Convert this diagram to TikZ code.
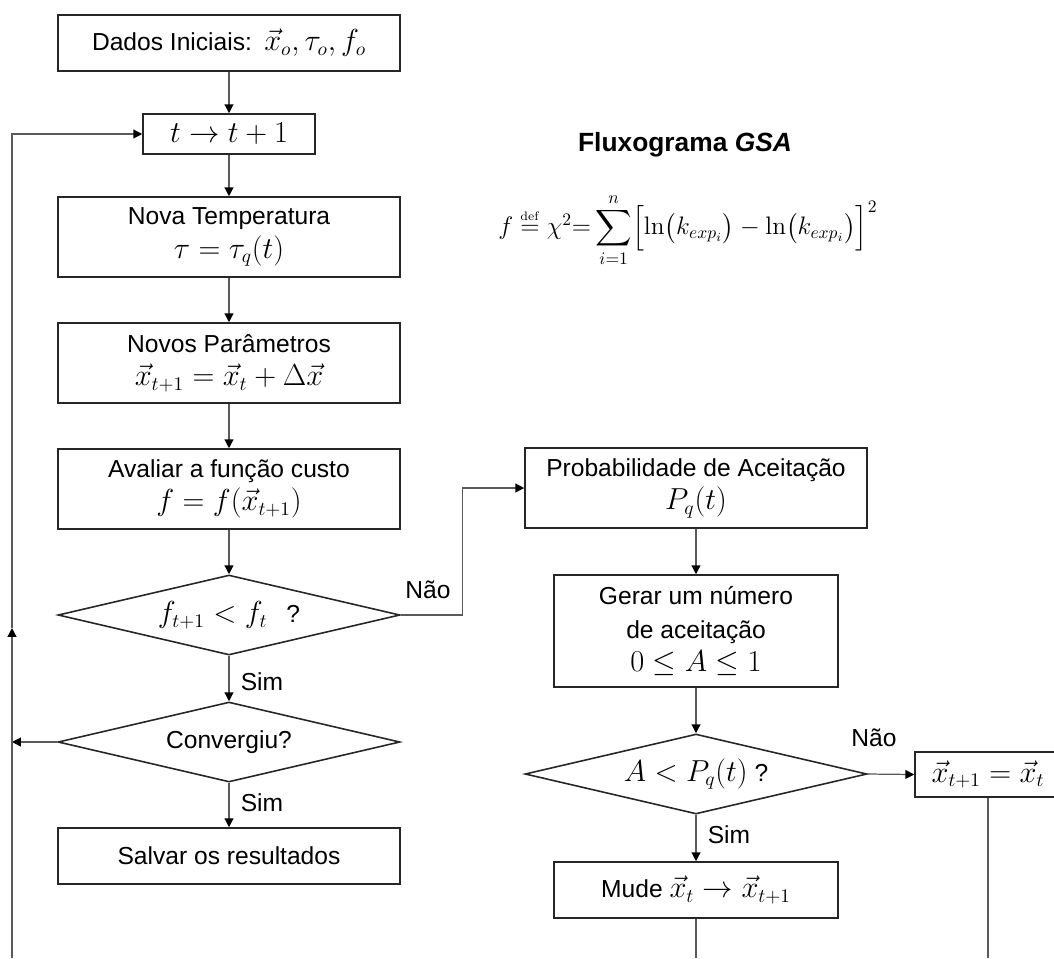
\documentclass[tikz,border=0pt]{standalone}
\usepackage{amsmath}
\usepackage[no-math]{fontspec}
\setmainfont{Liberation Sans}
\usetikzlibrary{shapes.geometric,arrows.meta}

\definecolor{edgegray}{HTML}{262626}
\definecolor{flowgray}{HTML}{5A5A5A}

% math in the boxes is set a little larger than the text
\newcommand{\mq}[1]{{\fontsize{16}{19}\selectfont$#1$}}

\begin{document}
\begin{tikzpicture}[
    x=0.02cm, y=-0.02cm,
    box/.style={draw=edgegray, line width=0.9pt, inner sep=0pt, align=center,
        font=\fontsize{14}{19}\selectfont},
    decision/.style={diamond, draw=edgegray, line width=0.9pt, aspect=4.3,
        inner sep=0pt, minimum width=6.84cm, minimum height=1.6cm,
        font=\fontsize{14}{18}\selectfont},
    flow/.style={draw=flowgray, line width=0.7pt,
        -{Triangle[length=5pt,width=5pt,color=black]}},
    plain/.style={draw=flowgray, line width=0.7pt},
    lbl/.style={font=\fontsize{14}{17}\selectfont, inner sep=0pt},
    titl/.style={font=\fontsize{15}{18}\selectfont\bfseries}
]

% Frame
\clip (0,0) rectangle (1054,958);

% Column positions
\def\xL{229}
\def\xR{696}

% ============================================================
% Main column
% ============================================================
\node[box, minimum width=6.84cm, minimum height=1.12cm] (dados) at (\xL,43)
    {Dados Iniciais:\enspace \mq{\vec{x}_o,\tau_o,f_o}};
\node[box, minimum width=3.44cm, minimum height=0.8cm] (incr) at (\xL,134)
    {\mq{t\rightarrow t+1}};
\node[box, minimum width=6.84cm, minimum height=1.6cm] (temp) at (\xL,237)
    {Nova Temperatura\\\mq{\tau=\tau_q(t)}};
\node[box, minimum width=6.84cm, minimum height=1.6cm] (param) at (\xL,363)
    {Novos Parâmetros\\\mq{\vec{x}_{t+1}=\vec{x}_t+\Delta\vec{x}}};
\node[box, minimum width=6.84cm, minimum height=1.6cm] (custo) at (\xL,489)
    {Avaliar a função custo\\\mq{f=f(\vec{x}_{t+1})}};
\node[decision] (dec1) at (\xL,615) {\mq{f_{t+1}<f_t}\enspace\ ?};
\node[decision] (conv) at (\xL,742) {Convergiu?};
\node[box, minimum width=6.84cm, minimum height=1.12cm] (salvar) at (\xL,856)
    {Salvar os resultados};

% Loop back
\coordinate (loopbot) at (12,958);
\coordinate (loopmid) at (12,628);

% ============================================================
% Acceptance column
% ============================================================
\node[box, minimum width=6.84cm, minimum height=1.6cm] (prob) at (\xR,488)
    {Probabilidade de Aceitação\\\mq{P_q(t)}};
\node[box, minimum width=5.68cm, minimum height=2.24cm] (gerar) at (\xR,631)
    {Gerar um número\\de aceitação\\\mq{0\leq A\leq 1}};
\node[decision] (dec2) at (\xR,774) {\mq{A<P_q(t)} ?};
\node[box, minimum width=5.68cm, minimum height=1.12cm] (mude) at (\xR,890)
    {Mude \mq{\vec{x}_t\rightarrow\vec{x}_{t+1}}};
\node[box, minimum width=2.92cm, minimum height=0.9cm] (manter) at (988,774.5)
    {\mq{\vec{x}_{t+1}=\vec{x}_t}};

\coordinate (mudebot) at (\xR,958);
\coordinate (manterbot) at (988,958);

% Labels
\node[lbl] (sim1) at (262,682) {Sim};
\node[lbl] (sim2) at (262,803) {Sim};
\node[lbl] (nao1) at (428,590) {Não};
\node[lbl] (sim3) at (729,835) {Sim};
\node[lbl] (nao2) at (874,738) {Não};

% Title and cost function
\node[titl] (titulo) at (685,145) {Fluxograma \textit{GSA}};
\node[font=\fontsize{14}{17}\selectfont] (chi) at (688,230)
    {$f\overset{\scriptscriptstyle\mathrm{def}}{=}\chi^2{=}\displaystyle\sum_{i=1}^{n}
    \Bigl[\ln\bigl(k_{exp_i}\bigr)-\ln\bigl(k_{exp_i}\bigr)\Bigr]^2$};

% ============================================================
% Connectors
% ============================================================
\draw[flow] (dados) -- (incr);
\draw[flow] (incr) -- (temp);
\draw[flow] (temp) -- (param);
\draw[flow] (param) -- (custo);
\draw[flow] (custo) -- (dec1);
\draw[flow] (dec1) -- (conv);
\draw[flow] (conv) -- (salvar);
\draw[flow] (conv.west) -- (conv.west -| loopbot);
\draw[flow] (loopbot) -- (loopmid);
\draw[flow] (loopmid) |- (incr.west);

\draw[flow] (dec1.east) -- ++(62,0) |- (prob.west);
\draw[flow] (prob) -- (gerar);
\draw[flow] (gerar) -- (dec2);
\draw[flow] (dec2) -- (mude);
\draw[flow] (dec2.east) -- (manter.west);
\draw[plain] (mude.south) -- (mudebot);
\draw[plain] (manter.south) -- (manterbot);
\end{tikzpicture}
\end{document}
